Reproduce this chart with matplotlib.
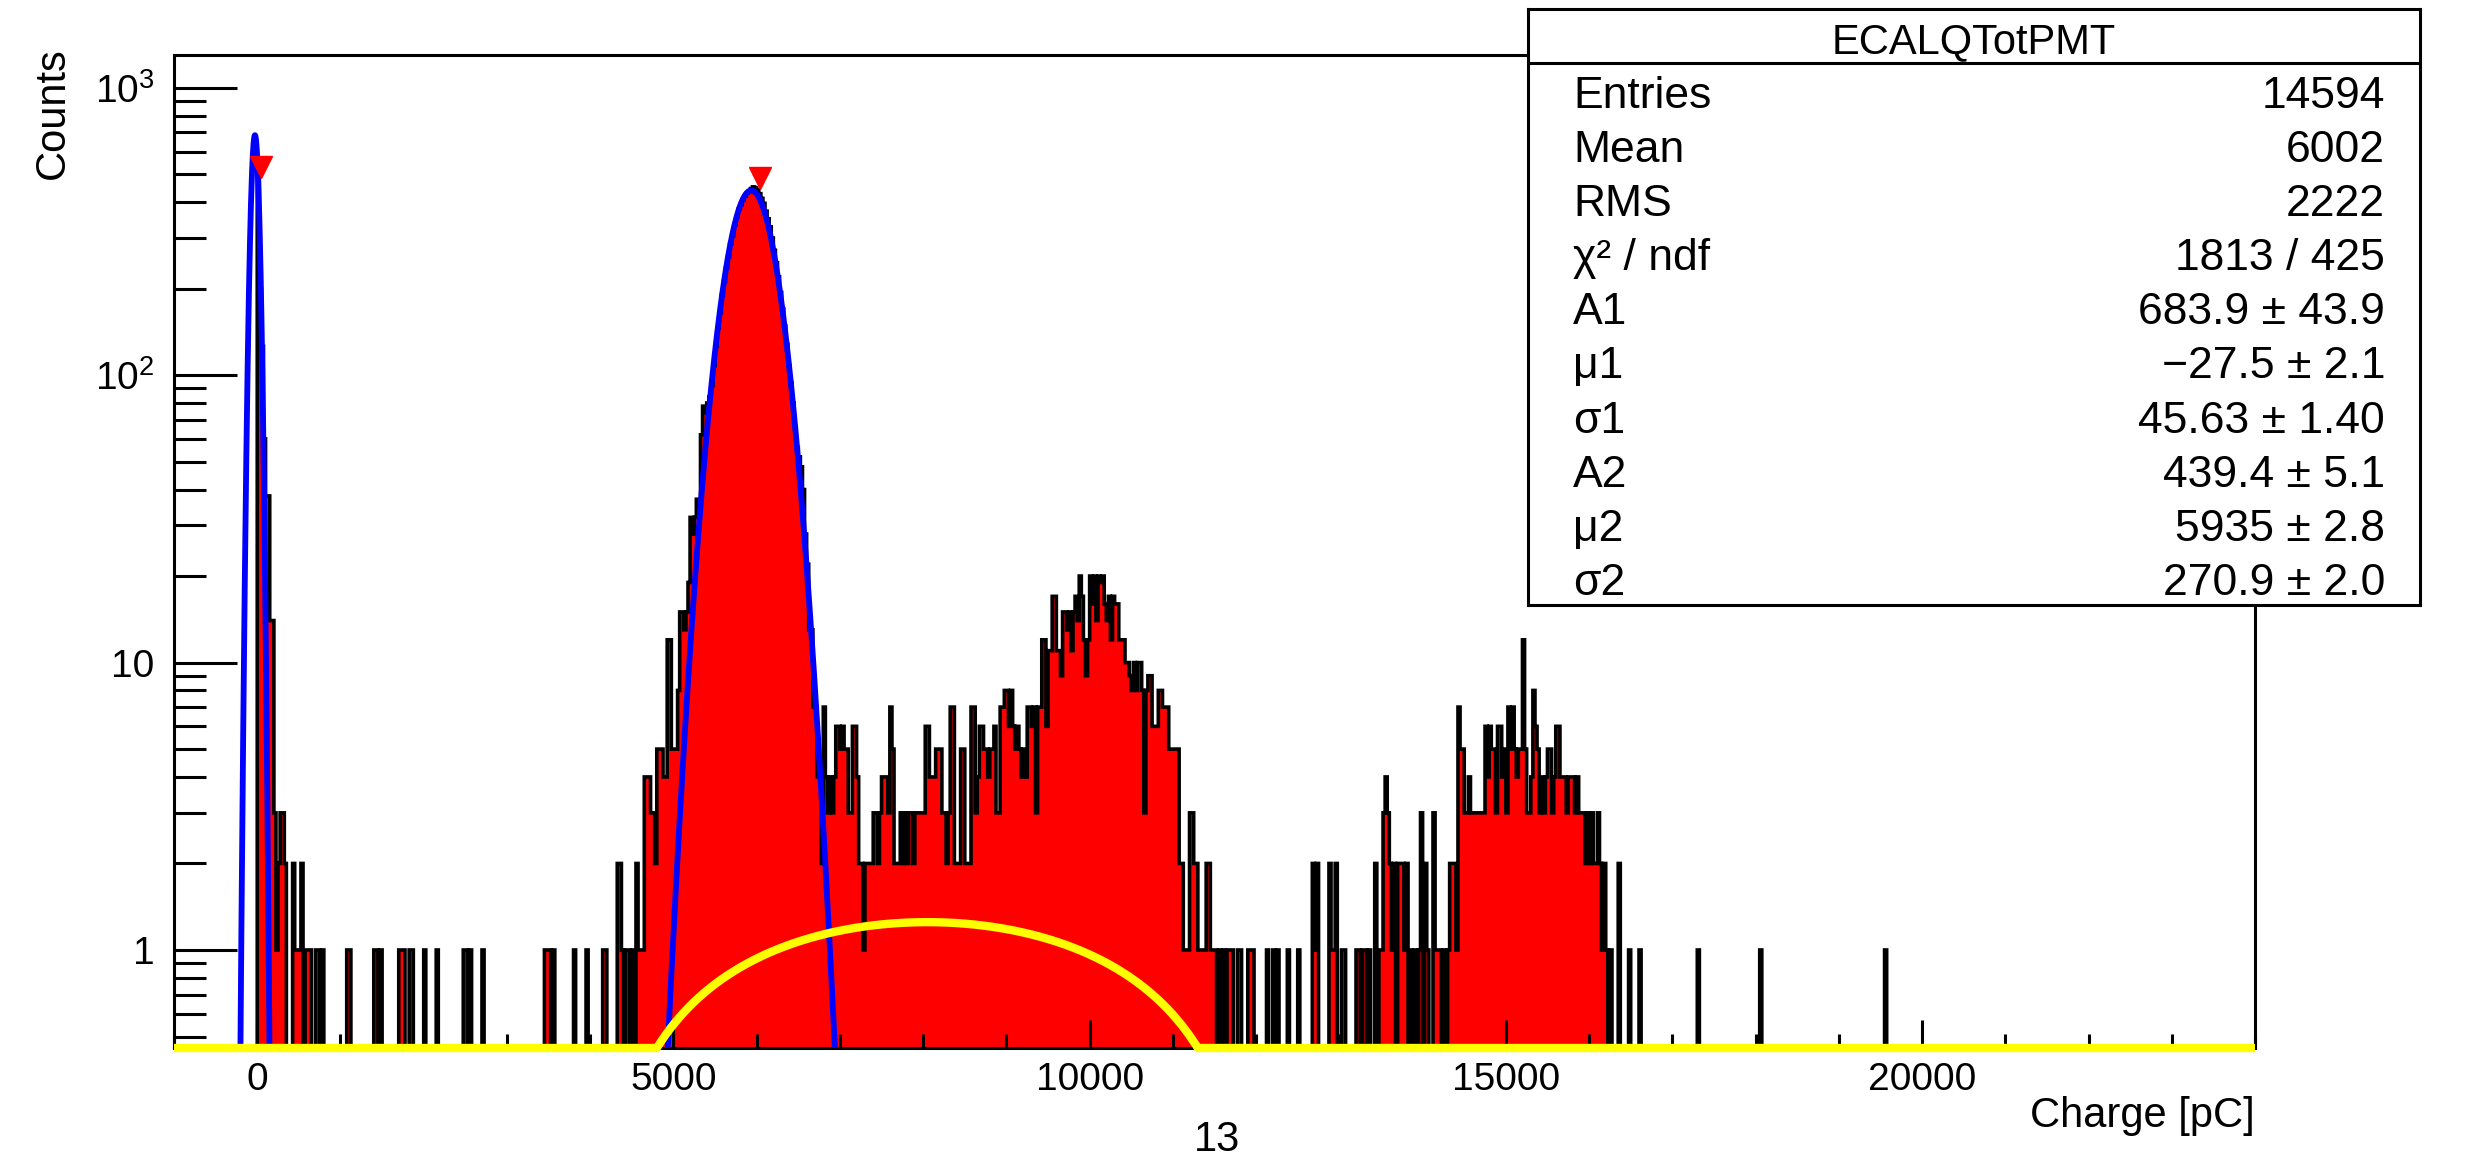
import numpy as np
import matplotlib
matplotlib.use('Agg')
import matplotlib.pyplot as plt
from matplotlib.ticker import LogLocator, NullFormatter, MultipleLocator

plt.rcParams['font.family'] = ['Liberation Sans', 'DejaVu Sans']
plt.rcParams['mathtext.fontset'] = 'custom'
plt.rcParams['mathtext.rm'] = 'Liberation Sans'

W, H = 2478, 1158

# TH1 binning: 1000 bins of 25 pC from -1000 to 24000
x_lo, x_hi, bin_w = -1000, 24000, 25

# pedestal and its tail, bins from 0 pC
ped_start = 0
ped_counts = [545, 200, 126, 60, 38, 38, 14, 14, 3, 1, 2, 3, 3, 2, 0, 0,
              0, 2, 1, 1, 1, 2, 0, 1, 1, 1, 0, 0, 1, 1, 0, 1]

# lone counts between pedestal and main peak (left bin edge, pC)
low_x = [1075, 1100, 1400, 1425, 1475, 1700, 1725, 1750, 1825, 1850, 2000, 2150,
         2475, 2500, 2550, 2700, 3450, 3475, 3500, 3550, 3800, 3950, 4150, 4175]
low_n = [1] * len(low_x)

# main peak + second bump, bins from 4300 pC (20 bins per row)
main_start = 4300
main_counts = [
    0, 2, 2, 1, 0, 1, 1, 0, 1, 0, 2, 1, 1, 1, 4, 4, 4, 3, 3, 2,
    5, 5, 5, 4, 4, 12, 12, 5, 5, 5, 8, 15, 15, 13, 15, 19, 32, 28, 32, 37,
    37, 62, 78, 74, 80, 84, 92, 108, 126, 146, 165, 190, 212, 236, 258, 286, 306, 334, 356, 378,
    392, 408, 420, 430, 436, 446, 452, 448, 440, 428, 412, 396, 372, 350, 328, 300, 272, 246, 220, 194,
    170, 148, 128, 108, 94, 80, 66, 56, 52, 48, 40, 28, 22, 13, 13, 7, 7, 4, 4, 2,
    7, 4, 3, 4, 3, 4, 6, 6, 5, 6, 5, 5, 3, 3, 6, 6, 4, 2, 2, 1,
    2, 2, 2, 2, 3, 3, 2, 3, 4, 4, 4, 3, 7, 5, 2, 2, 2, 3, 2, 3,
    2, 3, 3, 2, 3, 3, 3, 3, 3, 6, 6, 4, 4, 4, 5, 5, 5, 3, 3, 2,
    3, 7, 7, 2, 2, 2, 5, 5, 2, 2, 2, 7, 7, 3, 4, 6, 6, 5, 5, 4,
    5, 5, 6, 3, 3, 7, 7, 8, 8, 6, 8, 6, 5, 6, 5, 4, 5, 4, 7, 7,
    6, 7, 3, 7, 7, 12, 12, 6, 11, 11, 17, 17, 11, 11, 9, 15, 15, 13, 15, 11,
    15, 17, 14, 20, 17, 12, 9, 12, 20, 16, 20, 14, 20, 19, 20, 16, 14, 17, 12, 17,
    16, 16, 12, 12, 12, 10, 10, 9, 8, 10, 8, 10, 10, 8, 3, 8, 9, 9, 6, 6,
    6, 8, 8, 7, 7, 7, 5, 5, 5, 5, 5, 2, 2, 1, 1, 1, 3, 3, 2, 2,
    1, 1, 1, 1, 2, 2, 1, 1, 1,
]

# third bump, bins from 13500 pC
high_start = 13500
high_counts = [
    1, 3, 4, 3, 2, 1, 2, 0, 2, 2, 2, 1, 2, 0, 1, 0, 1, 0, 1, 3,
    0, 2, 1, 0, 0, 3, 1, 1, 1, 0, 1, 0, 1, 2, 2, 2, 1, 7, 5, 5,
    3, 3, 4, 3, 3, 3, 3, 3, 3, 3, 6, 4, 6, 5, 5, 3, 6, 6, 4, 5,
    3, 7, 5, 7, 5, 4, 5, 5, 12, 5, 3, 3, 4, 8, 6, 5, 3, 4, 3, 4,
    5, 5, 3, 4, 6, 6, 4, 4, 4, 3, 4, 4, 4, 3, 4, 3, 3, 3, 2, 3,
    2, 3, 2, 2, 3, 2, 1, 2,
]

# lone counts in the tails
tail_x = [11550, 11600, 11650, 11675, 11700, 11775, 11800, 11900, 11925, 11950,
          12125, 12200, 12250, 12375, 12500, 12675, 12700, 12725, 12875, 12900,
          12925, 12950, 13025, 13050, 13200, 13225, 13275, 13300, 13350, 13425,
          13475, 16200, 16250, 16350, 16475, 16600, 17300, 18050, 19550]
tail_n = [1, 1, 1, 1, 1, 1, 1, 1, 1, 1,
          1, 1, 1, 1, 1, 2, 1, 2, 2, 1,
          1, 2, 1, 1, 1, 1, 1, 1, 1, 2,
          1, 1, 1, 2, 1, 1, 1, 1, 1]

# fit: two gaussians (stat box values) and pol2 background
fit_par = [683.9, -27.5, 45.63, 439.4, 5935, 270.9]
bkg_par = [-3.623, 1.2107e-3, -7.52e-8]

# TSpectrum peak markers
mark_x = [45, 6035]
mark_y = [530, 485]

stat_name = 'ECALQTotPMT'
stat_labels = ['Entries', 'Mean', 'RMS', 'χ² / ndf', 'A1', 'μ1', 'σ1', 'A2', 'μ2', 'σ2']
stat_values = ['14594', '6002', '2222', '1813 / 425', '683.9 ± 43.9', '\u221227.5 ± 2.1',
               '45.63 ± 1.40', '439.4 ± 5.1', '5935 ± 2.8', '270.9 ± 2.0']

# ---- build histogram
edges = np.arange(x_lo, x_hi + bin_w, bin_w)
counts = np.zeros(len(edges) - 1)

def put(start, vals):
    i0 = (start - x_lo) // bin_w
    counts[i0:i0 + len(vals)] = vals

put(ped_start, ped_counts)
put(main_start, main_counts)
put(high_start, high_counts)
for xs, ns in ((low_x, low_n), (tail_x, tail_n)):
    for x, n in zip(xs, ns):
        counts[(x - x_lo) // bin_w] = n

ymin, ymax = 0.456, 1300
floor = 1e-3
h = np.where(counts > 0, counts, floor)

fig = plt.figure(figsize=(W / 100, H / 100), dpi=100)
fig.patch.set_facecolor('white')
ax = fig.add_axes([174 / W, 1 - 1048 / H, (2255 - 174) / W, (1048 - 55) / H])

ax.stairs(h, edges, baseline=floor, fill=True, color='red', lw=0, zorder=1)
ax.stairs(h, edges, baseline=floor, color='black', lw=2.6, zorder=1.5)

xf = np.linspace(x_lo, x_hi, 8001)
A1, m1, s1, A2, m2, s2 = fit_par
fit = A1 * np.exp(-0.5 * ((xf - m1) / s1) ** 2) + A2 * np.exp(-0.5 * ((xf - m2) / s2) ** 2)
bkg = bkg_par[0] + bkg_par[1] * xf + bkg_par[2] * xf ** 2
ax.plot(xf, np.maximum(bkg, ymin), color='#ffff00', lw=6, zorder=4, clip_on=False,
        solid_capstyle='butt')
ax.plot(xf, np.maximum(fit, 1e-30), color='#0000ff', lw=4.2, zorder=3)
ax.plot(mark_x, mark_y, 'v', color='red', ms=16, zorder=5)

ax.set_xlim(x_lo, x_hi)
ax.set_yscale('log')
ax.set_ylim(ymin, ymax)

ax.set_xticks([0, 5000, 10000, 15000, 20000])
ax.set_xticklabels(['0', '5000', '10000', '15000', '20000'])
ax.xaxis.set_minor_locator(MultipleLocator(1000))
ax.set_yticks([1, 10, 100, 1000])
ax.set_yticklabels(['1', '10', r'$\mathregular{10^{2}}$', r'$\mathregular{10^{3}}$'])
ax.yaxis.set_minor_locator(LogLocator(base=10, subs=range(2, 10), numticks=20))
ax.yaxis.set_minor_formatter(NullFormatter())

ax.tick_params(which='both', direction='in', top=False, right=False, width=2.2, color='black')
ax.tick_params(axis='x', which='major', length=20, pad=10, labelsize=28)
ax.tick_params(axis='x', which='minor', length=10)
ax.tick_params(axis='y', which='major', length=45, pad=14, labelsize=28)
ax.tick_params(axis='y', which='minor', length=23)
for sp in ax.spines.values():
    sp.set_linewidth(2.2)
    sp.set_zorder(2.5)

fig.text(53 / W, 1 - 47 / H, 'Counts', rotation=90, ha='center', va='top', fontsize=30)
fig.text(2255 / W, 1 - 1116 / H, 'Charge [pC]', ha='right', va='center', fontsize=30)
fig.text(1217 / W, 1 - 1140 / H, '13', ha='center', va='center', fontsize=30)

# ---- stat box (local coords = figure pixels relative to box corner)
box_l, box_r, box_t, box_b = 1528, 2420, 9, 605
bx = fig.add_axes([box_l / W, 1 - box_b / H, (box_r - box_l) / W, (box_b - box_t) / H], zorder=10)
bx.set_xlim(0, box_r - box_l)
bx.set_ylim(box_b - box_t, 0)
bx.set_xticks([])
bx.set_yticks([])
bx.set_facecolor('white')
for sp in bx.spines.values():
    sp.set_linewidth(2.2)
bx.axhline(63 - box_t, color='black', lw=2.2)
bx.text((box_r - box_l) / 2, 53 - box_t, stat_name, ha='center', va='baseline', fontsize=30)
for i, (lab, val) in enumerate(zip(stat_labels, stat_values)):
    yb = 108 + 54.1 * i - box_t
    bx.text(45, yb, lab, ha='left', va='baseline', fontsize=32)
    bx.text(857, yb, val, ha='right', va='baseline', fontsize=32)

fig.savefig('out.png', dpi=100)
